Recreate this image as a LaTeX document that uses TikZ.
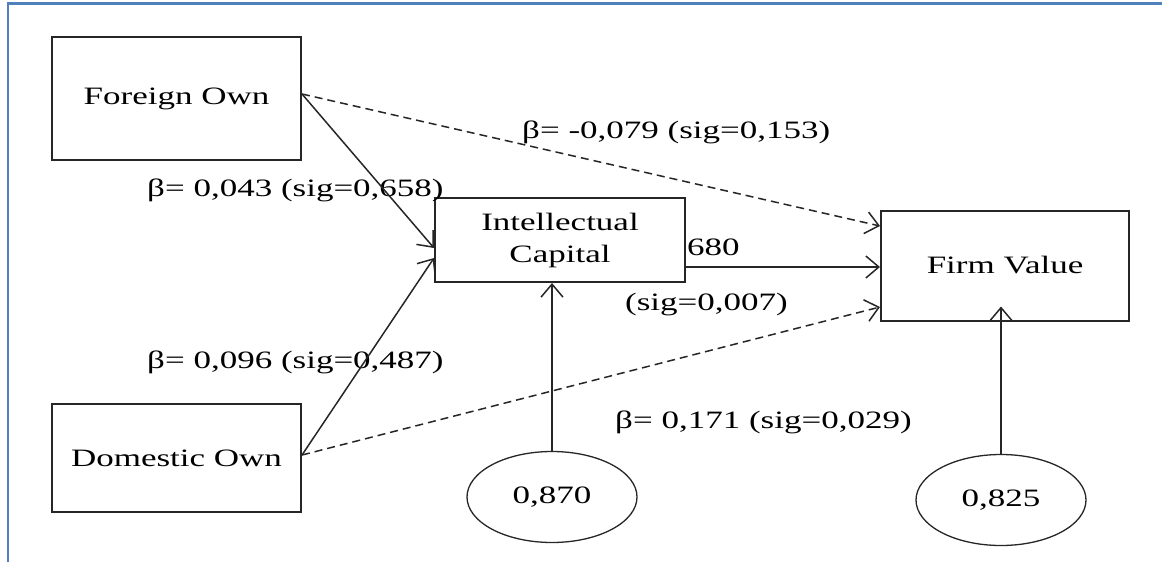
\documentclass[tikz,border=0pt]{standalone}
\usepackage{fontspec}
\setmainfont{Liberation Serif}[FakeStretch=1.4]
\usetikzlibrary{arrows.meta,shapes.geometric}
\definecolor{frameblue}{HTML}{4F81BD}

\begin{document}
\begin{tikzpicture}[x=1pt, y=-1pt,
  font=\fontsize{25}{32}\selectfont,
  box/.style={draw=black!85, line width=2, align=center, inner sep=0},
  oval/.style={draw=black!85, line width=1.3, ellipse, minimum width=170, minimum height=91, inner sep=0},
  link/.style={-{Straight Barb[length=13pt,width=22pt]}, draw=black!85, line width=1.5},
  coef/.style={anchor=west, inner sep=0}
]
\useasboundingbox (0,0) rectangle (1162,562);
\draw[color=frameblue, line width=2.5] (8,562) -- (8,3.5) -- (1162,3.5);

\node[box, minimum width=249, minimum height=123] (foreign own) at (176.5, 98.5) {Foreign Own};
\node[box, minimum width=249, minimum height=108] (domestic own) at (176.5, 458) {Domestic Own};
\node[box, minimum width=250, minimum height=84] (intellectual capital) at (560, 240) {Intellectual\\Capital};
\node[box, minimum width=248, minimum height=110] (firm value) at (1005, 265.5) {Firm Value};
\node[oval] (error ic) at (552, 497) {0,870};
\node[oval] (error fv) at (1001, 500) {0,825};

\node[coef] (b fo fv) at (522, 132) {β= -0,079 (sig=0,153)};
\node[coef] (b fo ic) at (147, 190) {β= 0,043 (sig=0,658)};
\node[coef] (b dom ic) at (147, 362) {β= 0,096 (sig=0,487)};
\node[coef] (b ic fv) at (687, 247) {680};
\node[coef] (sig ic fv) at (625, 305) {(sig=0,007)};
\node[coef] (b dom fv) at (615, 422) {β= 0,171 (sig=0,029)};

\coordinate (icin) at ([xshift=-8pt]intellectual capital.south);
\coordinate (fvin) at ([yshift=15pt]firm value.south);

% paths into intellectual capital
\draw[link] ([yshift=4.5pt]foreign own.east) -- ([yshift=-8pt]intellectual capital.west);
\draw[link] ([yshift=3pt]domestic own.east) -- ([yshift=-18pt]intellectual capital.west);
\draw[link] (error ic.north) -- (icin);

% paths into firm value
\draw[link, dash pattern=on 8pt off 5pt] ([yshift=4.5pt]foreign own.east) -- ([yshift=39.5pt]firm value.west);
\draw[link] ([yshift=-27pt]intellectual capital.east) -- ([yshift=-1.5pt]firm value.west);
\draw[link, dash pattern=on 8pt off 5pt] ([yshift=3pt]domestic own.east) -- ([yshift=-41.5pt]firm value.west);
\draw[link] (error fv.north) -- (error fv.north |- fvin);

\end{tikzpicture}
\end{document}
